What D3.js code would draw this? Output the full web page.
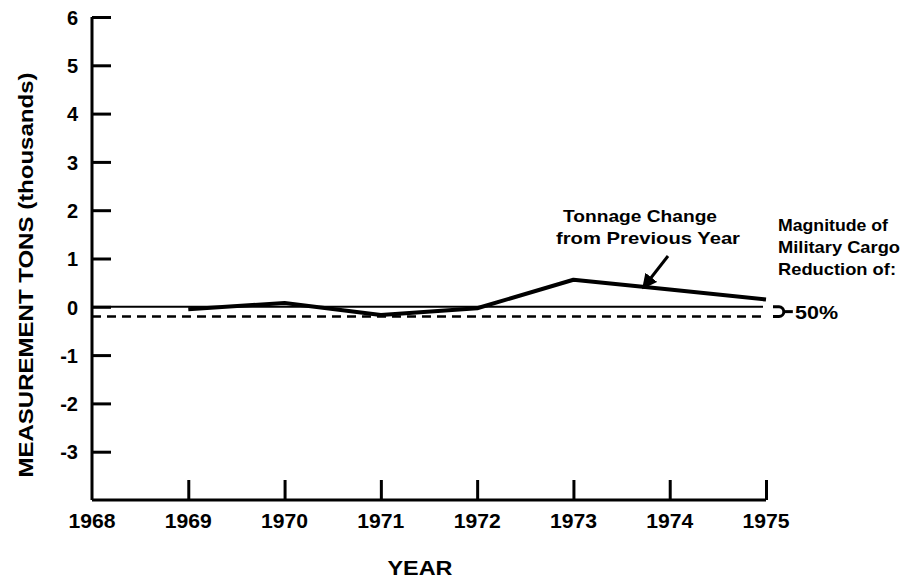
<!DOCTYPE html>
<meta charset="utf-8">
<style>
body { margin: 0; background: #fff; }
text { font-family: "Liberation Sans", Arial, sans-serif; font-weight: bold; fill: #000; }
.axis path, .axis line { stroke: #000; stroke-width: 3; fill: none; }
.axis text { font-size: 20px; }
</style>
<script src="https://cdn.jsdelivr.net/npm/d3@7"></script>
<body>
<script>

var years = [1968, 1969, 1970, 1971, 1972, 1973, 1974, 1975];
var yTicks = [-3, -2, -1, 0, 1, 2, 3, 4, 5, 6];

// tonnage change from previous year (thousands of measurement tons)
var changeYears = [1969, 1970, 1971, 1972, 1973, 1974, 1975];
var changeValues = [-0.05, 0.08, -0.17, -0.03, 0.56, 0.36, 0.15];

// 50% military cargo reduction band
var bandTop = 0;
var bandBottom = -0.2;

var width = 909, height = 580;

var svg = d3.select("body").append("svg")
    .attr("width", width)
    .attr("height", height);

var x = d3.scaleLinear().domain([1968, 1975]).range([92, 766]);
var y = d3.scaleLinear().domain([-4, 6]).range([500, 17]);

// y axis with ticks pointing inward
var yAxis = d3.axisRight(y)
    .tickValues(yTicks)
    .tickSize(19)
    .tickSizeOuter(0)
    .tickFormat(function(d) { return String(d); });

var gy = svg.append("g")
    .attr("class", "axis")
    .attr("transform", "translate(" + x(1968) + ",0)")
    .call(yAxis);
gy.select(".domain").attr("d", "M0," + y(6) + "V" + y(-4));
gy.selectAll("text")
    .attr("x", -14)
    .attr("text-anchor", "end")
    .attr("dy", "0.36em");

// x axis with ticks pointing up
var xAxis = d3.axisTop(x)
    .tickValues(years.slice(1))
    .tickSize(20)
    .tickSizeOuter(0);

var gx = svg.append("g")
    .attr("class", "axis")
    .attr("transform", "translate(0," + y(-4) + ")")
    .call(xAxis);
gx.select(".domain").attr("d", "M" + x(1968) + ",0H" + x(1975));
gx.selectAll("text").remove();

svg.append("g").selectAll("text")
    .data(years)
    .enter().append("text")
    .attr("x", function(d) { return x(d); })
    .attr("y", y(-4) + 28)
    .attr("text-anchor", "middle")
    .attr("textLength", 47)
    .attr("lengthAdjust", "spacingAndGlyphs")
    .style("font-size", "20px")
    .text(function(d) { return d; });

// zero line and dashed reduction line
svg.append("line")
    .attr("x1", x(1968)).attr("x2", x(1975) - 3)
    .attr("y1", y(bandTop)).attr("y2", y(bandTop))
    .attr("stroke", "#000").attr("stroke-width", 2);

svg.append("line")
    .attr("x1", x(1968)).attr("x2", x(1975) - 3)
    .attr("y1", y(bandBottom)).attr("y2", y(bandBottom))
    .attr("stroke", "#000").attr("stroke-width", 2.5)
    .attr("stroke-dasharray", "9,6");

// tonnage change line
var line = d3.line()
    .x(function(d, i) { return x(changeYears[i]); })
    .y(function(d) { return y(d); });

svg.append("path")
    .datum(changeValues)
    .attr("d", line)
    .attr("fill", "none")
    .attr("stroke", "#000")
    .attr("stroke-width", 4)
    .attr("stroke-linejoin", "round");

// bracket joining the two band lines
var bx = x(1975) + 7, yt = y(bandTop), yb = y(bandBottom), r = (yb - yt) / 2;
svg.append("path")
    .attr("d", "M" + bx + "," + yt + "H" + (bx + 6) + "A" + r + "," + r + " 0 0 1 " + (bx + 6) + "," + yb + "H" + bx)
    .attr("fill", "none").attr("stroke", "#000").attr("stroke-width", 3);
svg.append("path")
    .attr("d", "M" + (bx + 6 + r) + "," + (yt + r) + "h9")
    .attr("fill", "none").attr("stroke", "#000").attr("stroke-width", 3);

svg.append("text")
    .attr("x", 795).attr("y", y(-0.1) + 7)
    .attr("textLength", 43)
    .attr("lengthAdjust", "spacingAndGlyphs")
    .style("font-size", "19px")
    .text("50%");

// annotation
svg.append("text")
    .attr("x", 563).attr("y", 222)
    .attr("textLength", 154)
    .attr("lengthAdjust", "spacingAndGlyphs")
    .style("font-size", "17px")
    .text("Tonnage Change");
svg.append("text")
    .attr("x", 556).attr("y", 244)
    .attr("textLength", 184)
    .attr("lengthAdjust", "spacingAndGlyphs")
    .style("font-size", "17px")
    .text("from Previous Year");

svg.append("defs").append("marker")
    .attr("id", "arrow")
    .attr("viewBox", "0 0 10 10")
    .attr("refX", 9).attr("refY", 5)
    .attr("markerWidth", 5).attr("markerHeight", 5)
    .attr("orient", "auto")
    .append("path").attr("d", "M0,0L10,5L0,10Z").attr("fill", "#000");

svg.append("line")
    .attr("x1", 668).attr("y1", 256)
    .attr("x2", 643).attr("y2", 288)
    .attr("stroke", "#000").attr("stroke-width", 3)
    .attr("marker-end", "url(#arrow)");

var noteLines = ["Magnitude of", "Military Cargo", "Reduction of:"];
var noteWidths = [110, 122, 118];
svg.append("g").selectAll("text")
    .data(noteLines)
    .enter().append("text")
    .attr("x", 778)
    .attr("y", function(d, i) { return 231 + i * 22; })
    .attr("textLength", function(d, i) { return noteWidths[i]; })
    .attr("lengthAdjust", "spacingAndGlyphs")
    .style("font-size", "17px")
    .text(function(d) { return d; });

// axis titles
svg.append("text")
    .attr("x", 420).attr("y", 575)
    .attr("text-anchor", "middle")
    .attr("textLength", 65)
    .attr("lengthAdjust", "spacingAndGlyphs")
    .style("font-size", "21px")
    .text("YEAR");

svg.append("text")
    .attr("transform", "translate(33,275) rotate(-90)")
    .attr("text-anchor", "middle")
    .attr("textLength", 405)
    .attr("lengthAdjust", "spacingAndGlyphs")
    .style("font-size", "20px")
    .text("MEASUREMENT TONS (thousands)");

</script>
</body>
